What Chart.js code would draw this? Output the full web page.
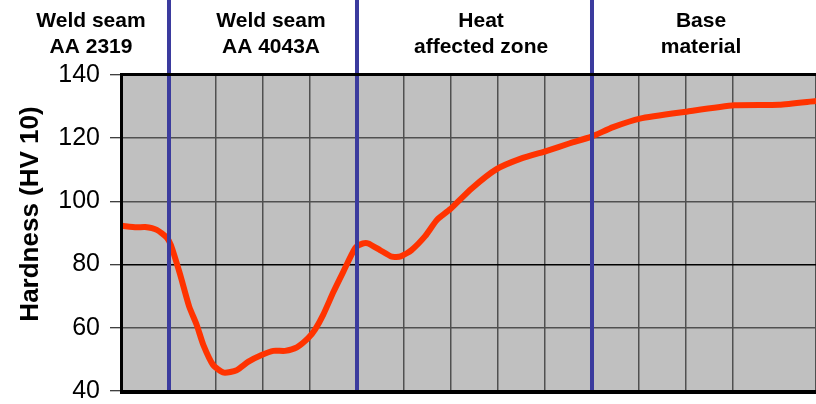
<!DOCTYPE html>
<html>
<head>
<meta charset="utf-8">
<script src="https://cdn.jsdelivr.net/npm/chart.js@4"></script>
<style>
  body { margin: 0; overflow: hidden; background: #fff; }
</style>
</head>
<body>
<canvas id="hardness" width="816" height="404"></canvas>
<script>
// position along the weld (grid units) and measured hardness
const position = [0, 0.31, 0.49, 0.74, 0.95, 1.04, 1.23, 1.43, 1.59, 1.73, 1.94, 2.17, 2.44, 2.69, 2.97,
    3.22, 3.47, 3.72, 3.96, 4.11, 4.28, 4.50, 4.71, 4.96, 5.13, 5.24, 5.49, 5.74, 5.93, 6.16, 6.45,
    6.70, 6.98, 7.44, 7.97, 8.50, 9.04, 9.53, 9.99, 10.45, 11.02, 12.01, 13.03, 13.98, 14.77];
const hardness = [92.3, 91.8, 91.9, 91.0, 88.6, 86.2, 77.2, 66.7, 60.9, 54.6, 48.2, 45.8, 46.6, 49.3, 51.4,
    52.7, 52.7, 53.8, 56.7, 59.5, 64.1, 71.4, 77.8, 85.2, 86.7, 86.7, 84.6, 82.5, 82.6, 84.6, 89.0,
    94.1, 97.5, 104.1, 110.2, 113.6, 116.0, 118.4, 120.5, 123.5, 126.2, 128.4, 130.4, 130.6, 131.8];

const zoneBounds = [1, 5, 10];
const zoneNames = [['Weld seam', 'AA 2319'], ['Weld seam', 'AA 4043A'], ['Heat', 'affected zone'], ['Base', 'material']];
const zoneCenters = [-0.66, 3.17, 7.64, 12.32];
const yTicks = [40, 60, 80, 100, 120, 140];

const points = position.map((x, i) => ({ x: x, y: hardness[i] }));

const decor = {
    id: 'decor',
    beforeDraw(chart) {
        const a = chart.chartArea, ctx = chart.ctx;
        ctx.save();
        ctx.fillStyle = '#c0c0c0';
        ctx.fillRect(a.left, a.top, a.right - a.left, a.bottom - a.top);
        ctx.restore();
    },
    afterDatasetsDraw(chart) {
        const a = chart.chartArea, ctx = chart.ctx, xs = chart.scales.x;
        ctx.save();
        // zone separators
        ctx.strokeStyle = '#3b3b9e';
        ctx.lineWidth = 4;
        zoneBounds.forEach(b => {
            const px = xs.getPixelForValue(b);
            ctx.beginPath();
            ctx.moveTo(px, 0);
            ctx.lineTo(px, a.bottom);
            ctx.stroke();
        });
        // frame
        ctx.fillStyle = '#000';
        ctx.fillRect(a.left, a.top - 2, a.right - a.left, 3);
        ctx.fillRect(a.left - 2, a.top - 2, 3, a.bottom - a.top + 4);
        ctx.fillRect(a.left - 2, a.bottom - 1, a.right - a.left + 2, 4);
        // zone names
        ctx.font = 'bold 21px "Liberation Sans", Arial, sans-serif';
        ctx.textAlign = 'center';
        ctx.textBaseline = 'middle';
        zoneNames.forEach((lines, i) => {
            const px = xs.getPixelForValue(zoneCenters[i]);
            ctx.fillText(lines[0], px, 21);
            ctx.fillText(lines[1], px, 47);
        });
        // y title
        ctx.font = 'bold 26px "Liberation Sans", Arial, sans-serif';
        ctx.translate(31, 214);
        ctx.rotate(-Math.PI / 2);
        ctx.fillText('Hardness (HV 10)', 0, 0);
        ctx.restore();
    }
};

new Chart(document.getElementById('hardness'), {
    type: 'line',
    data: {
        datasets: [{
            data: points,
            borderColor: '#ff3300',
            borderWidth: 6,
            pointRadius: 0,
            tension: 0.2,
            fill: false
        }]
    },
    options: {
        responsive: false,
        animation: false,
        layout: { padding: { top: 75, bottom: 13, left: 0, right: 0 } },
        plugins: { legend: { display: false }, tooltip: { enabled: false } },
        scales: {
            x: {
                type: 'linear',
                min: 0,
                max: 14.766,
                ticks: { display: false, stepSize: 1 },
                grid: { color: '#505050', lineWidth: 1.5, drawTicks: false },
                border: { display: false },
                afterFit(scale) { scale.height = 0; scale.paddingLeft = 0; scale.paddingRight = 0; }
            },
            y: {
                min: 40,
                max: 140,
                afterBuildTicks(scale) { scale.ticks = yTicks.map(v => ({ value: v })); },
                ticks: {
                    color: '#000',
                    padding: 10,
                    font: { family: '"Liberation Sans", Arial, sans-serif', size: 25 }
                },
                grid: {
                    color: ctx => ctx.tick && ctx.tick.value === 80 ? '#000' : '#505050',
                    lineWidth: 1.5,
                    tickLength: 12,
                    tickColor: '#000',
                    tickWidth: 1
                },
                border: { display: false },
                afterFit(scale) { scale.width = 122; scale.paddingTop = 0; scale.paddingBottom = 0; }
            }
        }
    },
    plugins: [decor]
});
</script>
</body>
</html>
